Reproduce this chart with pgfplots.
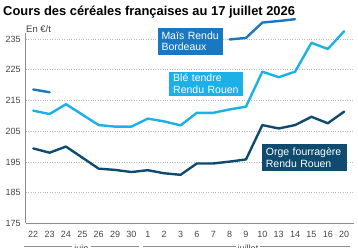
\documentclass[border=0pt]{standalone}
\usepackage{pgfplots}
\pgfplotsset{compat=1.18}
\usepackage{fontspec}
\setmainfont{Liberation Sans}

\definecolor{mais}{HTML}{1A78C2}
\definecolor{ble}{HTML}{1BB0E8}
\definecolor{orge}{HTML}{0E4B6E}
\definecolor{tickgray}{HTML}{444444}
\definecolor{gridgray}{HTML}{BBBBBB}
\definecolor{axisgray}{HTML}{8C8C8C}

\begin{document}
\begin{tikzpicture}
\begin{axis}[
  at={(0,0)}, anchor=south west,
  scale only axis, width=328.3pt, height=190.3pt,
  xmin=-0.46, xmax=19.6, ymin=175, ymax=237,
  clip=false,
  axis x line*=bottom, axis y line*=left,
  axis line style={axisgray, line width=0.7pt, -},
  xtick={0,...,19},
  xticklabels={22,23,24,25,26,29,30,1,2,3,6,7,8,9,10,13,14,15,16,20},
  ytick={175,185,...,235},
  major tick length=0pt,
  ymajorgrids, grid style={gridgray, dotted, line width=0.7pt},
  /pgf/number format/assume math mode=true,
  tick label style={font=\fontsize{9}{10}\selectfont, text=tickgray},
  xticklabel style={yshift=-4.5pt},
  yticklabel style={xshift=-1.5pt},
  every axis plot/.append style={line width=2.4pt, line join=round, line cap=round, mark=none},
]
% Blé tendre Rendu Rouen
\addplot[ble] coordinates {
  (0,211.7) (1,210.6) (2,213.8) (3,210.4) (4,207.0) (5,206.5) (6,206.5)
  (7,209.1) (8,208.2) (9,206.9) (10,211.0) (11,211.0) (12,212.1) (13,213.0)
  (14,224.4) (15,222.6) (16,224.4) (17,233.8) (18,231.8) (19,237.6)};
% Orge fourragère Rendu Rouen
\addplot[orge] coordinates {
  (0,199.4) (1,198.0) (2,200.0) (3,196.4) (4,192.8) (5,192.4) (6,191.7)
  (7,192.3) (8,191.3) (9,190.8) (10,194.5) (11,194.5) (12,195.1) (13,195.8)
  (14,207.0) (15,205.9) (16,207.0) (17,209.7) (18,207.6) (19,211.4)};
% Maïs Rendu Bordeaux (cotation interrompue)
\addplot[mais] coordinates {(0,218.6) (1,217.7)};
\addplot[mais] coordinates {(12,234.9) (13,235.4) (14,240.4) (15,240.9) (16,241.5)};
\end{axis}

\begin{scope}[shift={(-25.7pt,223.3pt)}, x=1pt, y=-1pt]
  % titre
  \node[anchor=base west, inner sep=0pt, text=black]
    at (3,15.3) {\fontsize{12.9}{14}\selectfont\bfseries Cours des céréales françaises au 17 juillet 2026};
  % unité
  \node[anchor=base west, inner sep=0pt, text=tickgray]
    at (26,32.3) {\fontsize{9.5}{10}\selectfont En €/t};
  % étiquettes des séries
  \node[anchor=north west, fill=mais, text=white, align=left, inner xsep=4pt, inner ysep=0pt,
        text width=57.4pt, minimum height=26.6pt, font=\fontsize{10.5}{11.5}\selectfont]
    at (157.3,27.7) {Maïs Rendu\\Bordeaux};
  \node[anchor=north west, fill=ble, text=white, align=left, inner xsep=4pt, inner ysep=0pt,
        text width=65.7pt, minimum height=24pt, font=\fontsize{10.5}{11.5}\selectfont]
    at (169,71.7) {Blé tendre\\Rendu Rouen};
  \node[anchor=north west, fill=orge, text=white, align=left, inner xsep=4pt, inner ysep=0pt,
        text width=77pt, minimum height=26.7pt, font=\fontsize{10.5}{11.5}\selectfont]
    at (261.7,144) {Orge fourragère\\Rendu Rouen};
  % mois
  \draw[axisgray, line width=0.5pt] (24,246.6) -- (72,246.6) (91,246.6) -- (139,246.6)
        (143,246.6) -- (236,246.6) (260,246.6) -- (350,246.6);
  \node[anchor=north, inner sep=0pt, text=tickgray, font=\fontsize{9}{10}\selectfont] at (81.5,245.2) {juin};
  \node[anchor=north, inner sep=0pt, text=tickgray, font=\fontsize{9}{10}\selectfont] at (248,245.2) {juillet};
  \pgfresetboundingbox
  \path[use as bounding box] (0,0) rectangle (358,247);
\end{scope}
\end{tikzpicture}
\end{document}
